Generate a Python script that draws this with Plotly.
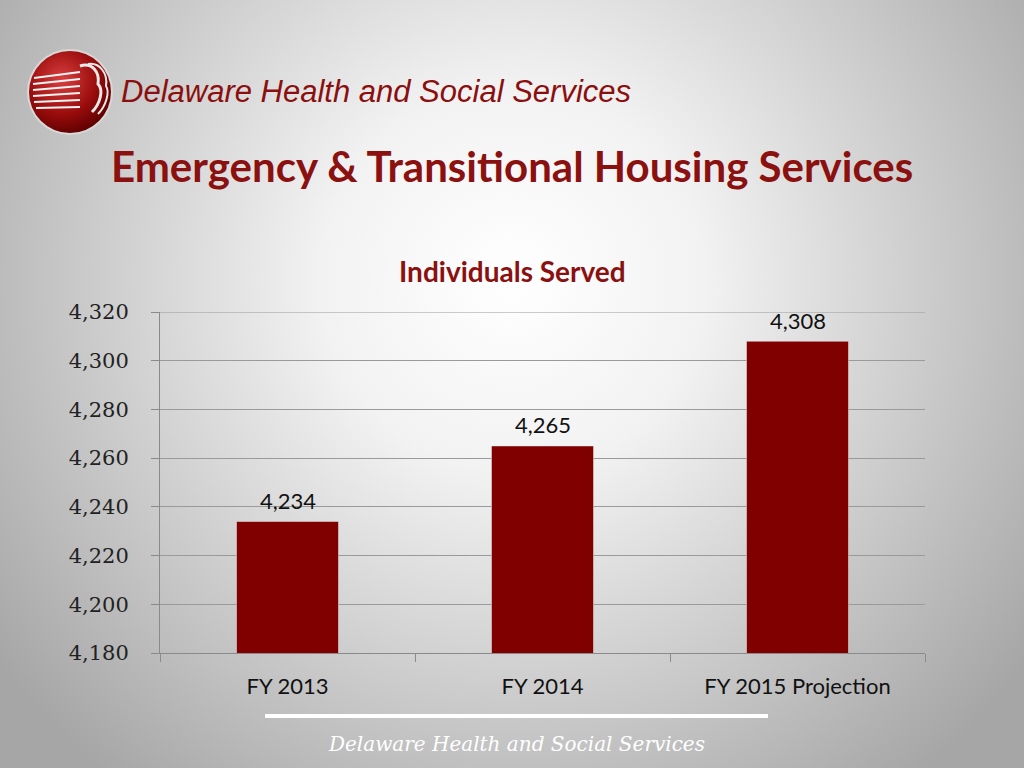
import base64
import plotly.graph_objects as go

# data
years = ['FY 2013', 'FY 2014', 'FY 2015 Projection']
served = [4234, 4265, 4308]
y_ticks = [4180, 4200, 4220, 4240, 4260, 4280, 4300, 4320]

maroon = '#800000'
title_red = '#8b1010'

# plot area in pixels (1024x768 page)
L, R, T, B = 160, 925, 312, 653
W, H = R - L, B - T


def px_x(p):
    return (p - L) / W


def px_y(p):
    return (B - p) / H


# slide background: radial grey gradient + round logo
svg = """<svg xmlns='http://www.w3.org/2000/svg' width='1024' height='768'>
<defs>
<radialGradient id='bg' cx='512' cy='280' r='640' gradientUnits='userSpaceOnUse'>
<stop offset='0' stop-color='#ffffff'/>
<stop offset='0.3' stop-color='#f2f2f2'/>
<stop offset='1' stop-color='#a6a6a6'/>
</radialGradient>
<radialGradient id='logo' cx='0.4' cy='0.35' r='0.7'>
<stop offset='0' stop-color='#d94040'/>
<stop offset='0.6' stop-color='#9a0c0c'/>
<stop offset='1' stop-color='#5a0000'/>
</radialGradient>
</defs>
<rect width='1024' height='768' fill='url(#bg)'/>
<circle cx='70' cy='92' r='43' fill='#d8d8d8'/>
<circle cx='70' cy='92' r='41' fill='url(#logo)'/>
<g stroke='#f4f4f4' stroke-width='2'>
<line x1='34' y1='78' x2='80' y2='72'/>
<line x1='33' y1='84' x2='80' y2='79'/>
<line x1='33' y1='90' x2='80' y2='86'/>
<line x1='33' y1='96' x2='80' y2='93'/>
<line x1='34' y1='102' x2='80' y2='100'/>
<line x1='36' y1='108' x2='80' y2='107'/>
</g>
<path d='M80 66 C92 62 100 72 98 84 C104 90 100 104 92 112' stroke='#e8e8e8' stroke-width='3' fill='none'/>
<path d='M88 64 C100 62 108 74 106 86 C110 92 106 106 98 114' stroke='#e8e8e8' stroke-width='2' fill='none'/>
</svg>"""
bg_uri = 'data:image/svg+xml;base64,' + base64.b64encode(svg.encode()).decode()

fig = go.Figure(go.Bar(x=years, y=served, marker_color=maroon))

# value labels above the bars
for yr, v in zip(years, served):
    fig.add_annotation(x=yr, y=v, text=f'{v:,}', showarrow=False, yanchor='middle', yshift=21,
                       font=dict(family='Lato', size=22, color='#111111'))

fig.update_layout(
    width=1024, height=768,
    margin=dict(l=L, r=1024 - R, t=T, b=768 - B),
    paper_bgcolor='#d0d0d0', plot_bgcolor='rgba(0,0,0,0)',
    bargap=0.6, showlegend=False,
    images=[dict(source=bg_uri, xref='paper', yref='paper',
                 x=px_x(0), y=px_y(0), sizex=1024 / W, sizey=768 / H,
                 sizing='stretch', xanchor='left', yanchor='top', layer='below')],
)

fig.update_yaxes(
    range=[4180, 4320], tickvals=y_ticks, tickformat=',',
    tickfont=dict(family='DejaVu Serif', size=21, color='#222222'),
    showgrid=True, gridcolor='#9a9a9a', gridwidth=1,
    showline=True, linecolor='#8a8a8a', ticks='outside', ticklen=8,
    tickcolor='#8a8a8a', zeroline=False, ticklabelstandoff=18,
)
fig.update_xaxes(
    tickfont=dict(family='Lato', size=22, color='#111111'),
    showline=True, linecolor='#8a8a8a', ticks='outside', ticklen=8,
    tickcolor='#8a8a8a', tickson='boundaries', ticklabelstandoff=14,
)
# top border line at 4,320
fig.add_hline(y=4320, line_color='#9a9a9a', line_width=1)

# header texts
fig.add_annotation(text='<i>Delaware Health and Social Services</i>', x=px_x(119), y=px_y(92),
                   xref='paper', yref='paper', xanchor='left', yanchor='middle', showarrow=False,
                   font=dict(family='Liberation Sans', size=31, color='#8b0f0f'))
fig.add_annotation(text='<b>Emergency &amp; Transitional Housing Services</b>', x=px_x(512), y=px_y(166),
                   xref='paper', yref='paper', xanchor='center', yanchor='middle', showarrow=False,
                   font=dict(family='Lato', size=42, color=title_red))
fig.add_annotation(text='<b>Individuals Served</b>', x=px_x(512), y=px_y(271),
                   xref='paper', yref='paper', xanchor='center', yanchor='middle', showarrow=False,
                   font=dict(family='Lato', size=28, color=title_red))

# footer line and text
fig.add_shape(type='line', xref='paper', yref='paper', x0=px_x(265), x1=px_x(768),
              y0=px_y(716), y1=px_y(716), line=dict(color='white', width=4))
fig.add_annotation(text='<i>Delaware Health and Social Services</i>', x=px_x(516), y=px_y(744),
                   xref='paper', yref='paper', xanchor='center', yanchor='middle', showarrow=False,
                   font=dict(family='DejaVu Serif', size=20, color='white'))

fig.write_html('out.html', config={'displayModeBar': False},
               post_script="document.body.style.margin='0';")
